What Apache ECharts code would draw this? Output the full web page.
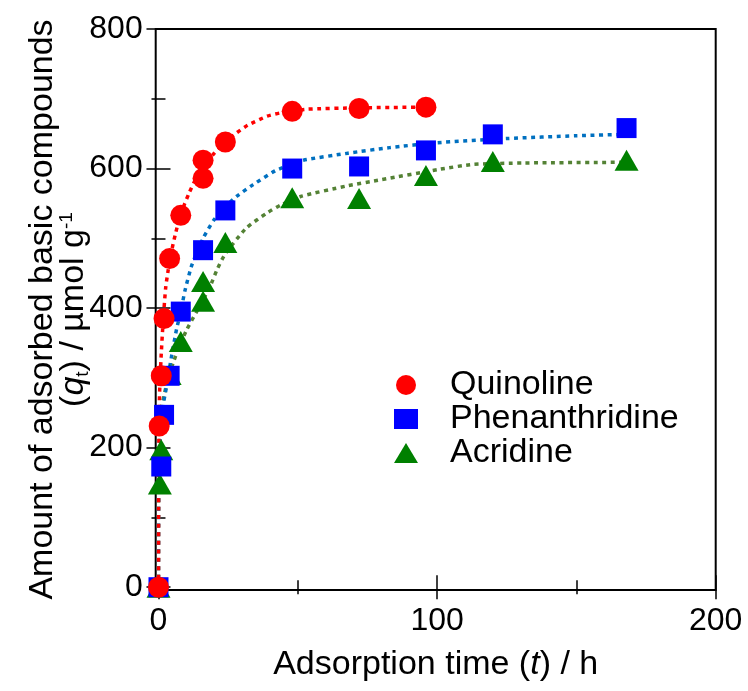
<!DOCTYPE html>
<html>
<head>
<meta charset="utf-8">
<script src="https://cdn.jsdelivr.net/npm/echarts@6/dist/echarts.min.js"></script>
<style>html,body{margin:0;padding:0;background:#fff;}#c{width:748px;height:691px;}</style>
</head>
<body>
<div id="c"></div>
<script>
// ---- data ----
const quinolineTime = [0, 0.25, 1, 2, 4, 8, 16, 16, 24, 48, 72, 96];
const quinolineQ    = [0, 231, 303, 385, 471, 533, 586, 612, 638, 682, 686, 688];
const phenanthridineTime = [0, 1, 2, 4, 8, 16, 24, 48, 72, 96, 120, 168];
const phenanthridineQ    = [0, 173, 247, 303, 395, 483, 540, 600, 603, 626, 649, 658];
const acridineTime = [0, 0.5, 1, 4, 8, 16, 16, 24, 48, 72, 96, 120, 168];
const acridineQ    = [0, 148, 197, 305, 352, 410, 438, 494, 558, 557, 590, 610, 612];

// dotted fit curves
const quinolineFitTime = [0, 0.05, 0.25, 0.5, 1, 1.5, 2, 2.6, 3.5, 4.5, 6, 8, 11, 14, 17, 20, 24, 28, 32, 39, 44, 53, 72, 96];
const quinolineFitQ    = [0, 150, 255, 290, 335, 370, 400, 430, 455, 478, 505, 535, 565, 590, 608, 622, 638, 651, 662, 675, 680, 685, 687, 688];
const phenanthridineFitTime = [0, 0.05, 0.3, 1, 2, 3, 4, 5, 6.5, 8, 9.5, 12, 16, 20, 24, 28, 34, 42, 48, 52, 68, 83, 100, 125, 150, 168];
const phenanthridineFitQ    = [0, 130, 200, 235, 268, 290, 315, 338, 370, 395, 425, 462, 500, 527, 545, 560, 577, 597, 606, 612, 622, 630, 637, 643, 647, 649];
const acridineFitTime = [0, 0.05, 0.3, 0.5, 1, 2, 3.5, 5.3, 7, 10, 13.7, 18.5, 21, 24, 31.6, 38.8, 44, 51, 67.5, 80, 101, 113, 131, 168];
const acridineFitQ    = [0, 120, 210, 235, 255, 275, 300, 322, 340, 368, 395, 431, 455, 478, 515, 536, 548, 560, 575, 584, 599, 606, 608, 609];

const xMajorTicks = [0, 100, 200];
const xMinorTicks = [50, 150];
const yMajorTicks = [0, 200, 400, 600, 800];
const yMinorTicks = [100, 300, 500, 700];

const seriesNames = ['Quinoline', 'Phenanthridine', 'Acridine'];

function zip(a, b) { return a.map((v, i) => [v, b[i]]); }

const FONT = "'Liberation Sans', Arial, sans-serif";
const XMIN = -1, XMAX = 200, YMIN = -4, YMAX = 800;
const tickStyle = { color: '#000', width: 1.5 };

function xAx(pos, ticks, len, labels, extra) {
  return Object.assign({
    type: 'value', min: XMIN, max: XMAX, position: pos, gridIndex: 0,
    axisLine: { show: false }, splitLine: { show: false },
    axisTick: { show: true, inside: true, length: len, customValues: ticks, lineStyle: tickStyle },
    axisLabel: labels ? { show: true, customValues: labels, color: '#000', fontSize: 32, fontFamily: FONT, margin: 15 } : { show: false }
  }, extra || {});
}
function yAx(pos, ticks, len, labels, extra) {
  return Object.assign({
    type: 'value', min: YMIN, max: YMAX, position: pos, gridIndex: 0,
    axisLine: { show: false }, splitLine: { show: false },
    axisTick: { show: true, inside: true, length: len, customValues: ticks, lineStyle: tickStyle },
    axisLabel: labels ? { show: true, customValues: labels, color: '#000', fontSize: 32, fontFamily: FONT, margin: 13 } : { show: false }
  }, extra || {});
}

const chart = echarts.init(document.getElementById('c'), null, { renderer: 'canvas' });

const fitLine = (name, t, q, color) => ({
  type: 'line', name: name + ' fit', data: zip(t, q), showSymbol: false, symbol: 'none',
  lineStyle: { color: color, width: 3.5, type: [4, 4.5], cap: 'butt' }, smooth: 0.2,
  xAxisIndex: 0, yAxisIndex: 0, z: 2, silent: true
});
const marks = (name, t, q, symbol, size, color, z) => ({
  type: 'scatter', name: name, data: zip(t, q), symbol: symbol, symbolSize: size,
  itemStyle: { color: color, opacity: 1 }, xAxisIndex: 0, yAxisIndex: 0, z: z
});

chart.setOption({
  animation: false,
  backgroundColor: '#fff',
  grid: { left: 155.7, top: 29, right: 32.3, bottom: 101, show: true, borderColor: '#000', borderWidth: 2, backgroundColor: 'transparent' },
  xAxis: [
    xAx('bottom', xMajorTicks, 12, xMajorTicks, {
      name: 'Adsorption time ({i|t}) / h', nameLocation: 'middle', nameGap: 58, nameMoveOverlap: false,
      nameTextStyle: { color: '#000', fontSize: 34, fontFamily: FONT, rich: { i: { fontStyle: 'italic', fontSize: 34, fontFamily: FONT, color: '#000' } } }
    }),
    xAx('bottom', xMinorTicks, 7, null),
    xAx('top', xMajorTicks, 12, null),
    xAx('top', xMinorTicks, 7, null)
  ],
  yAxis: [
    yAx('left', yMajorTicks, 12, yMajorTicks, {
      name: 'Amount of adsorbed basic compounds\n({i|q}{sub|t}) / µmol g{sup|-1}',
      nameLocation: 'middle', nameRotate: 90, nameGap: 67, nameMoveOverlap: false,
      nameTextStyle: {
        color: '#000', fontSize: 34, fontFamily: FONT, lineHeight: 31, align: 'center',
        rich: {
          i: { fontStyle: 'italic', fontSize: 34, fontFamily: FONT, color: '#000', lineHeight: 31 },
          sub: { fontSize: 19, fontFamily: FONT, color: '#000', verticalAlign: 'bottom', lineHeight: 31, padding: [0, 0, -4, 0] },
          sup: { fontSize: 19, fontFamily: FONT, color: '#000', verticalAlign: 'top', lineHeight: 31 }
        }
      }
    }),
    yAx('left', yMinorTicks, 7, null),
    yAx('right', yMajorTicks, 12, null),
    yAx('right', yMinorTicks, 7, null)
  ],
  legend: {
    data: seriesNames, orient: 'vertical', left: 389, top: 363,
    itemWidth: 24, itemHeight: 20, itemGap: 0,
    textStyle: { color: '#000', fontSize: 34, fontFamily: FONT, lineHeight: 32, padding: [0, 0, 0, 27] }
  },
  series: [
    fitLine('Acridine', acridineFitTime, acridineFitQ, '#548235'),
    fitLine('Phenanthridine', phenanthridineFitTime, phenanthridineFitQ, '#0070C0'),
    fitLine('Quinoline', quinolineFitTime, quinolineFitQ, '#FF0000'),
    marks('Acridine', acridineTime, acridineQ, 'triangle', [24, 21], '#008000', 3),
    marks('Phenanthridine', phenanthridineTime, phenanthridineQ, 'rect', 20, '#0000FF', 4),
    marks('Quinoline', quinolineTime, quinolineQ, 'circle', 21, '#FF0000', 5)
  ]
});
</script>
</body>
</html>
